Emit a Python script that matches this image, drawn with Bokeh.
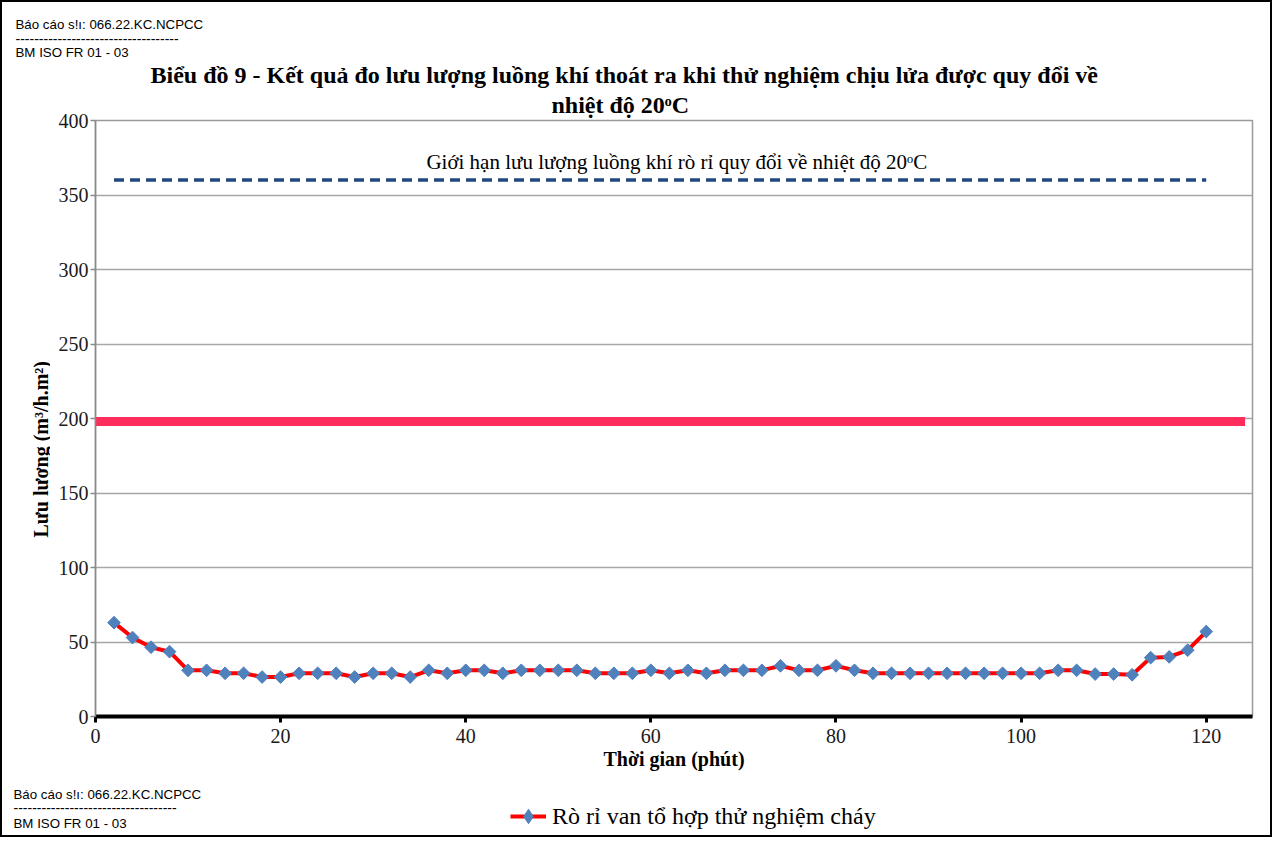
import math
from bokeh.plotting import figure
from bokeh.layouts import column, row
from bokeh.models import (Label, Legend, LegendItem, FixedTicker, Range1d, ColumnDataSource, Title)
from bokeh.embed import file_html
from bokeh.resources import INLINE

# ---------------- data ----------------
time_min = [2, 4, 6, 8, 10, 12, 14, 16, 18, 20,
            22, 24, 26, 28, 30, 32, 34, 36, 38, 40,
            42, 44, 46, 48, 50, 52, 54, 56, 58, 60,
            62, 64, 66, 68, 70, 72, 74, 76, 78, 80,
            82, 84, 86, 88, 90, 92, 94, 96, 98, 100,
            102, 104, 106, 108, 110, 112, 114, 116, 118, 120]
leak_flow = [63, 53, 46.5, 43.5, 31, 31, 29, 29, 26.5, 26.5,
             29, 29, 29, 26.5, 29, 29, 26.5, 31, 29, 31,
             31, 29, 31, 31, 31, 31, 29, 29, 29, 31,
             29, 31, 29, 31, 31, 31, 34, 31, 31, 34,
             31, 29, 29, 29, 29, 29, 29, 29, 29, 29,
             29, 31, 31, 28.5, 28.5, 28, 39.5, 40, 44.5, 57]
limit_x = [2, 120]
limit_y = [360, 360]
pink_x = [0, 124.2]
pink_y = [198, 198]
x_ticks = [0, 20, 40, 60, 80, 100, 120]
y_ticks = [0, 50, 100, 150, 200, 250, 300, 350, 400]

title_line1 = "Biểu đồ 9 - Kết quả đo lưu lượng luồng khí thoát ra khi thử nghiệm chịu lửa được quy đổi về"
title_line2 = "nhiệt độ 20ᵒC"
limit_text = "Giới hạn lưu lượng luồng khí rò rỉ quy đổi về nhiệt độ 20ᵒC"
y_title = "Lưu lượng (m³/h.m²)"
x_title = "Thời gian (phút)"
series_name = "Rò rỉ van tổ hợp thử nghiệm cháy"
header1 = "Báo cáo s!ı: 066.22.KC.NCPCC"
header2 = "-----------------------------------"
header3 = "BM ISO FR 01 - 03"

SERIF = "Liberation Serif"
SANS = "Liberation Sans"

TOTAL_W = 1268
TOP_H, MAIN_H, BOT_H = 58, 716, 59
LEFT_W = 48
MAIN_W = TOTAL_W - LEFT_W


def blank(w, h):
    f = figure(width=w, height=h, output_backend="svg", toolbar_location=None,
               x_range=Range1d(0, w), y_range=Range1d(h, 0),
               x_axis_type=None, y_axis_type=None, title=None,
               min_border=0, min_border_left=0, min_border_right=0,
               min_border_top=0, min_border_bottom=0)
    f.outline_line_color = None
    f.grid.visible = False
    f.background_fill_color = "white"
    f.border_fill_color = "white"
    return f


def txt(f, t, x, y, font, size, style="normal", align="left", angle=0):
    f.add_layout(Label(x=x, y=y, text=t, text_font=font, text_font_size=size,
                       text_font_style=style, text_align=align, text_baseline="middle",
                       angle=angle, text_color="black"))


# ---------------- top strip (report header) ----------------
top = blank(TOTAL_W, TOP_H)
txt(top, header1, 13, 22, SANS, "13.3px")
txt(top, header2, 13, 36, SANS, "14px")
txt(top, header3, 13, 50, SANS, "13.3px")

# ---------------- left strip (y title) ----------------
left = blank(LEFT_W, MAIN_H)
txt(left, y_title, 38, 395, SERIF, "20px", "bold", "center", angle=math.pi / 2)

# ---------------- main chart ----------------
p = figure(width=MAIN_W, height=MAIN_H, output_backend="svg", toolbar_location=None,
           x_range=Range1d(0, 125), y_range=Range1d(0, 400), title=None,
           min_border_left=45, min_border_right=18,
           min_border_top=60, min_border_bottom=60)
p.background_fill_color = "white"
p.border_fill_color = "white"
p.outline_line_color = "#9a9a9a"
p.outline_line_width = 1.5

# titles (first added sits closest to the frame)
p.add_layout(Title(text=title_line2, text_font=SERIF, text_font_size="24px",
                   text_font_style="bold", text_color="black",
                   align="left", offset=456, standoff=5), "above")
p.add_layout(Title(text=title_line1, text_font=SERIF, text_font_size="24px",
                   text_font_style="bold", text_color="black",
                   align="left", offset=55, standoff=-1), "above")

p.xaxis.ticker = FixedTicker(ticks=x_ticks)
p.yaxis.ticker = FixedTicker(ticks=y_ticks)
p.xgrid.visible = False
p.ygrid.grid_line_color = "#a6a6a6"
p.ygrid.grid_line_width = 1.5
for ax in (p.xaxis, p.yaxis):
    ax.major_label_text_font = SERIF
    ax.major_label_text_font_size = "20px"
    ax.major_label_text_color = "#1a1a1a"
    ax.minor_tick_line_color = None
    ax.major_tick_in = 0
p.xaxis.axis_line_color = "black"
p.xaxis.axis_line_width = 4
p.xaxis.major_tick_line_color = "black"
p.xaxis.major_tick_line_width = 3
p.xaxis.major_tick_out = 6
p.xaxis.major_label_standoff = 6
p.xaxis.axis_label = x_title
p.xaxis.axis_label_text_font = SERIF
p.xaxis.axis_label_text_font_size = "20px"
p.xaxis.axis_label_text_font_style = "bold"
p.xaxis.axis_label_text_color = "black"
p.xaxis.axis_label_standoff = 2
p.yaxis.axis_line_color = "#8a8a8a"
p.yaxis.axis_line_width = 1.5
p.yaxis.major_tick_line_color = "#8a8a8a"
p.yaxis.major_tick_line_width = 1.5
p.yaxis.major_tick_out = 5
p.yaxis.major_label_standoff = 2

p.line(pink_x, pink_y, line_color="#ff2d5c", line_width=9)
p.line(limit_x, limit_y, line_color="#1f497d", line_width=3.5, line_dash="10 6")

src = ColumnDataSource(dict(x=time_min, y=leak_flow))
p.line("x", "y", source=src, line_color="#ff0000", line_width=4)
p.scatter("x", "y", source=src, marker="square", size=9, angle=math.pi / 4,
          fill_color="#4f81bd", line_color="#4f81bd")

p.add_layout(Label(x=62.8, y=372, text=limit_text, text_font=SERIF, text_font_size="21px",
                   text_align="center", text_baseline="middle", text_color="black"))

# ---------------- bottom strip (footer + legend) ----------------
bot = blank(TOTAL_W, BOT_H)
txt(bot, header1, 11, 18, SANS, "13.3px")
txt(bot, header2, 11, 31, SANS, "14px")
txt(bot, header3, 11, 47, SANS, "13.3px")
# same series drawn off-view so the legend shows its glyphs
bot_src = ColumnDataSource(dict(x=time_min, y=[v + 10000 for v in leak_flow]))
bl = bot.line("x", "y", source=bot_src, line_color="#ff0000", line_width=4)
bs = bot.scatter("x", "y", source=bot_src, marker="diamond", size=24,
                 fill_color="#4f81bd", line_color="#4f81bd")
legend = Legend(items=[LegendItem(label=series_name, renderers=[bl, bs])],
                location=(508, 0), orientation="horizontal",
                label_text_font=SERIF, label_text_font_size="24px", label_text_color="black",
                glyph_width=36, glyph_height=38, label_standoff=6,
                padding=0, margin=0, spacing=0,
                border_line_color=None, background_fill_alpha=0)
bot.add_layout(legend, "center")

layout = column(top, row(left, p), bot)
layout.styles = {"border": "2px solid black"}

open("out.html", "w").write(file_html(layout, INLINE))
